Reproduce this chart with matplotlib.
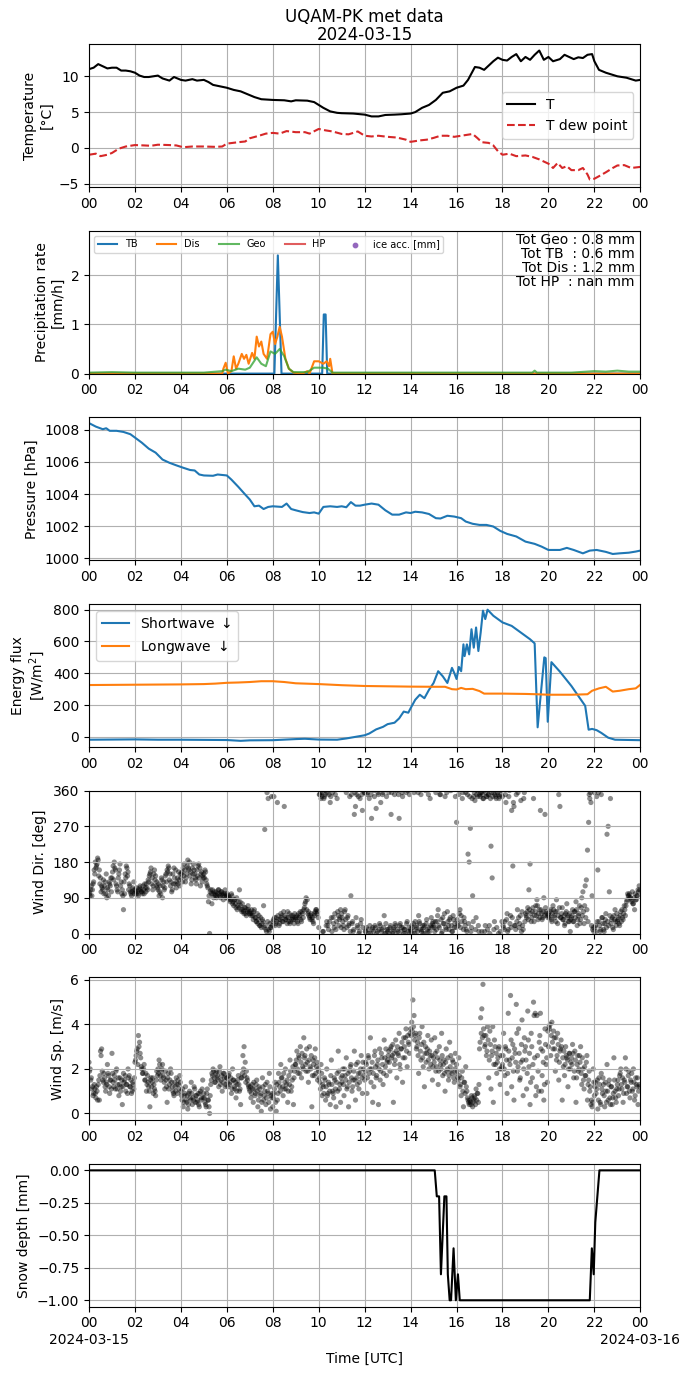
import numpy as np
import pandas as pd
import matplotlib
matplotlib.use("Agg")
import matplotlib.pyplot as plt
import matplotlib.dates as mdates

day = pd.Timestamp("2024-03-15")

# Temperature and dew point [degC]
t_hours = [0.0, 0.2, 0.4, 0.6, 0.8, 1.0, 1.2, 1.4, 1.6, 1.8, 2.0, 2.2, 2.4, 2.6, 2.8, 3.0, 3.2, 3.5, 3.7,
           4.0, 4.2, 4.5, 4.7, 5.0, 5.2, 5.4, 5.7, 6.0, 6.3, 6.6, 6.9, 7.2, 7.5, 8.0, 8.5, 8.8, 9.0, 9.5,
           9.8, 10.0, 10.2, 10.5, 10.8, 11.0, 11.5, 12.0, 12.3, 12.6, 12.9, 13.3, 13.6, 14.0, 14.2, 14.5,
           14.8, 15.1, 15.4, 15.7, 16.0, 16.3, 16.5, 16.7, 16.8, 17.0, 17.2, 17.4, 17.6, 17.8, 18.0, 18.2,
           18.4, 18.6, 18.8, 19.0, 19.2, 19.4, 19.6, 19.8, 20.0, 20.2, 20.5, 20.7, 20.9, 21.1, 21.3, 21.5,
           21.7, 21.9, 22.0, 22.2, 22.5, 23.0, 23.4, 23.8, 24.0]
t_vals = [11.0, 11.2, 11.7, 11.4, 11.1, 11.2, 11.2, 10.8, 10.8, 10.7, 10.5, 10.1, 9.9, 9.9, 10.0, 10.1, 9.7,
          9.4, 9.9, 9.5, 9.4, 9.6, 9.4, 9.5, 9.2, 8.8, 8.6, 8.4, 8.1, 7.9, 7.5, 7.1, 6.8, 6.7, 6.65, 6.5,
          6.65, 6.6, 6.4, 6.0, 5.6, 5.1, 4.9, 4.85, 4.8, 4.65, 4.4, 4.4, 4.6, 4.65, 4.7, 4.8, 5.0, 5.6,
          6.0, 6.7, 7.7, 7.9, 8.4, 8.7, 9.5, 10.7, 11.3, 11.2, 10.9, 11.5, 12.1, 12.6, 12.3, 12.2, 12.7,
          13.1, 12.1, 12.7, 12.3, 13.0, 13.6, 12.3, 12.7, 12.1, 12.4, 13.0, 12.7, 12.4, 12.65, 12.55, 13.0,
          13.1, 12.1, 10.9, 10.5, 10.0, 9.8, 9.4, 9.5]
td_hours = [0.0, 0.3, 0.5, 0.8, 1.0, 1.3, 1.6, 2.0, 2.4, 2.7, 3.0, 3.5, 3.8, 4.1, 4.5, 5.0, 5.5, 5.8, 6.0,
            6.5, 6.8, 7.0, 7.4, 7.7, 8.0, 8.3, 8.6, 9.0, 9.4, 9.6, 10.0, 10.3, 10.6, 11.0, 11.3, 11.7, 12.0,
            12.3, 12.6, 13.0, 13.4, 13.8, 14.0, 14.4, 14.7, 15.0, 15.3, 15.6, 15.9, 16.2, 16.5, 16.7, 16.9,
            17.1, 17.4, 17.6, 17.8, 18.0, 18.3, 18.6, 19.0, 19.3, 19.6, 20.0, 20.2, 20.4, 20.6, 20.8, 21.0,
            21.3, 21.5, 21.7, 21.8, 22.0, 22.2, 22.5, 22.8, 23.0, 23.3, 23.6, 24.0]
td_vals = [-0.95, -0.8, -1.15, -0.95, -0.7, -0.1, 0.2, 0.4, 0.35, 0.3, 0.45, 0.4, 0.35, 0.1, 0.2, 0.2, 0.15,
           0.2, 0.6, 0.8, 0.9, 1.35, 1.7, 2.0, 2.1, 2.0, 2.35, 2.2, 2.2, 2.0, 2.65, 2.45, 2.3, 1.95, 1.9,
           2.3, 1.7, 1.6, 1.7, 1.55, 1.45, 1.15, 0.85, 1.05, 1.15, 1.4, 1.7, 1.7, 1.55, 1.7, 1.85, 1.95,
           1.4, 0.8, 0.7, 0.35, -0.45, -0.95, -0.8, -1.15, -1.05, -1.25, -1.6, -2.2, -2.8, -2.1, -2.8,
           -2.55, -3.1, -3.1, -2.8, -3.7, -4.4, -4.3, -3.95, -3.4, -2.8, -2.45, -2.4, -2.8, -2.65]

# Precipitation rates [mm/h]
tb_hours = [0, 8.07, 8.22, 8.38, 10.15, 10.22, 10.3, 10.37, 24]
tb_rate = [0, 0, 2.4, 0, 0, 1.2, 1.2, 0, 0]
dis_hours = [0, 5.8, 5.85, 5.95, 6.05, 6.2, 6.3, 6.4, 6.5, 6.65, 6.75, 6.85, 6.95, 7.1, 7.2, 7.3, 7.4, 7.5,
             7.6, 7.75, 7.9, 8.0, 8.1, 8.2, 8.3, 8.4, 8.55, 8.7, 8.9, 9.3, 9.5, 9.6, 9.8, 10.0, 10.2, 10.35,
             10.45, 10.5, 10.6, 24]
dis_rate = [0, 0, 0.1, 0.22, 0.0, 0.05, 0.35, 0.1, 0.2, 0.4, 0.3, 0.38, 0.2, 0.42, 0.3, 0.75, 0.55, 0.65,
            0.4, 0.3, 0.8, 0.85, 0.6, 0.75, 0.95, 0.75, 0.3, 0.1, 0.02, 0.0, 0.05, 0.0, 0.25, 0.25, 0.2,
            0.25, 0.15, 0.3, 0.0, 0.0]
geo_hours = [0, 1, 2, 3, 4, 5, 5.8, 5.95, 6.2, 6.5, 6.8, 7.0, 7.3, 7.5, 7.7, 7.9, 8.1, 8.3, 8.5, 8.7, 8.9,
             9.5, 9.8, 10.2, 10.4, 10.6, 12, 14, 16, 18, 19.3, 19.4, 19.5, 21, 22, 22.5, 23, 23.5, 24]
geo_rate = [0.02, 0.03, 0.02, 0.02, 0.02, 0.02, 0.05, 0.08, 0.05, 0.1, 0.08, 0.12, 0.33, 0.2, 0.15, 0.45,
            0.4, 0.5, 0.35, 0.1, 0.03, 0.03, 0.12, 0.12, 0.1, 0.02, 0.02, 0.02, 0.02, 0.02, 0.02, 0.06,
            0.02, 0.02, 0.05, 0.04, 0.06, 0.04, 0.04]
hp_hours = [0, 24]
hp_rate = [np.nan, np.nan]
tot_geo, tot_tb, tot_dis, tot_hp = 0.8, 0.6, 1.2, np.nan

# Pressure [hPa]
p_hours = [0.0, 0.3, 0.6, 0.75, 0.9, 1.2, 1.5, 1.8, 2.0, 2.3, 2.6, 2.9, 3.2, 3.5, 3.8, 4.1, 4.4, 4.6, 4.8,
           5.0, 5.4, 5.6, 6.0, 6.2, 6.5, 6.8, 7.0, 7.2, 7.4, 7.6, 7.8, 8.0, 8.4, 8.6, 8.8, 9.0, 9.3, 9.6,
           9.8, 10.0, 10.2, 10.5, 10.8, 11.0, 11.2, 11.4, 11.6, 11.8, 12.0, 12.3, 12.6, 12.9, 13.2, 13.5,
           13.8, 14.0, 14.2, 14.5, 14.8, 15.1, 15.3, 15.6, 15.9, 16.2, 16.4, 16.7, 17.0, 17.3, 17.6, 17.9,
           18.2, 18.6, 19.0, 19.4, 19.7, 20.0, 20.5, 20.8, 21.1, 21.5, 21.8, 22.1, 22.5, 22.8, 23.1, 23.5,
           23.8, 24.0]
p_vals = [1008.42, 1008.2, 1008.04, 1008.1, 1007.94, 1007.94, 1007.87, 1007.73, 1007.52, 1007.2, 1006.83,
          1006.58, 1006.15, 1005.95, 1005.79, 1005.64, 1005.5, 1005.47, 1005.22, 1005.16, 1005.14, 1005.22,
          1005.16, 1004.9, 1004.45, 1003.97, 1003.66, 1003.24, 1003.28, 1003.07, 1003.2, 1003.24, 1003.2,
          1003.41, 1003.07, 1002.99, 1002.88, 1002.82, 1002.86, 1002.78, 1003.2, 1003.24, 1003.2, 1003.24,
          1003.18, 1003.5, 1003.28, 1003.28, 1003.34, 1003.41, 1003.34, 1002.99, 1002.72, 1002.72, 1002.86,
          1002.82, 1002.9, 1002.86, 1002.76, 1002.5, 1002.48, 1002.65, 1002.6, 1002.5, 1002.29, 1002.15,
          1002.08, 1002.08, 1001.98, 1001.71, 1001.52, 1001.36, 1001.04, 1000.9, 1000.73, 1000.52, 1000.52,
          1000.65, 1000.52, 1000.31, 1000.48, 1000.52, 1000.4, 1000.27, 1000.31, 1000.35, 1000.42, 1000.48]

# Radiation [W/m2]
sw_hours = [0.0, 1.0, 2.0, 3.0, 4.0, 5.0, 6.0, 6.6, 7.0, 8.0, 9.0, 9.4, 10.0, 10.8, 11.2, 11.6, 12.0, 12.2,
            12.5, 12.8, 13.0, 13.3, 13.5, 13.7, 13.9, 14.0, 14.2, 14.4, 14.6, 14.8, 15.0, 15.2, 15.4, 15.6,
            15.8, 15.9, 16.0, 16.1, 16.2, 16.3, 16.35, 16.45, 16.55, 16.65, 16.75, 16.85, 16.95, 17.05,
            17.15, 17.25, 17.35, 17.6, 18.0, 18.4, 18.8, 19.2, 19.4, 19.53, 19.82, 19.88, 19.97, 20.13,
            20.5, 21.0, 21.6, 21.75, 21.9, 22.1, 22.3, 22.6, 22.9, 24.0]
sw_vals = [-18, -17, -16, -18, -18, -19, -20, -25, -22, -21, -14, -12, -17, -18, -10, 0, 10, 21, 47, 63, 80,
           89, 116, 159, 152, 180, 233, 265, 243, 296, 339, 413, 381, 339, 434, 402, 364, 440, 413, 582,
           508, 582, 519, 677, 561, 688, 540, 656, 794, 741, 800, 762, 720, 698, 656, 614, 588, 60, 500,
           495, 95, 470, 410, 320, 195, 45, 50, 42, 25, -5, -18, -21]
lw_hours = [0, 1, 2, 3, 4, 5, 5.5, 6, 6.5, 7, 7.5, 8, 8.5, 9, 10, 11, 12, 13, 14, 15, 15.5, 15.8, 16.0,
            16.2, 16.4, 16.7, 17.0, 17.2, 18, 19, 19.5, 20, 21, 21.7, 21.9, 22.2, 22.5, 22.8, 23.1, 23.5,
            23.8, 24]
lw_vals = [326, 327, 328, 329, 330, 332, 335, 340, 342, 345, 350, 350, 345, 337, 332, 325, 320, 318, 316,
           315, 315, 300, 298, 308, 300, 302, 288, 272, 272, 270, 268, 265, 265, 268, 290, 305, 315, 285,
           290, 300, 305, 328]

# Wind, one sample every 3 minutes (20 per hour)
wind_dir = [
    105, 95, 120, 110, 130, 150, 165, 175, 185, 160, 140, 120, 110, 100, 130, 150, 115, 95, 125, 140,
    140, 170, 180, 160, 120, 105, 150, 175, 130, 110, 60, 100, 140, 165, 155, 125, 105, 95, 115, 130,
    110, 100, 105, 95, 115, 110, 105, 120, 100, 115, 125, 110, 130, 150, 165, 140, 120, 160, 145, 130,
    110, 95, 120, 140, 90, 130, 115, 150, 160, 170, 135, 120, 105, 150, 165, 125, 115, 140, 155, 120,
    140, 155, 165, 175, 130, 150, 185, 160, 145, 125, 165, 175, 150, 135, 160, 170, 140, 120, 155, 145,
    150, 160, 135, 120, 80, 0, 110, 75, 100, 105, 95, 90, 100, 110, 95, 105, 100, 85, 95, 100,
    95, 90, 85, 80, 100, 75, 70, 85, 65, 60, 80, 110, 70, 55, 60, 50, 65, 45, 55, 60,
    55, 45, 50, 35, 60, 40, 30, 25, 45, 20, 15, 35, 70, 262, 10, 355, 340, 5, 15, 345,
    30, 345, 20, 40, 330, 35, 25, 50, 45, 30, 320, 35, 40, 55, 30, 25, 45, 40, 35, 50,
    35, 45, 25, 40, 55, 30, 50, 60, 75, 90, 85, 55, 40, 45, 35, 30, 50, 55, 60, 55,
    15, 350, 340, 355, 5, 345, 360, 30, 20, 350, 330, 40, 355, 25, 50, 10, 340, 45, 35, 60,
    50, 30, 10, 60, 355, 40, 20, 345, 95, 25, 5, 300, 320, 350, 15, 0, 340, 35, 310, 360,
    355, 5, 350, 10, 340, 0, 290, 15, 360, 20, 315, 5, 350, 25, 330, 10, 355, 45, 0, 345,
    5, 355, 15, 300, 0, 10, 350, 20, 360, 5, 290, 25, 15, 345, 0, 10, 355, 30, 5, 350,
    10, 20, 0, 355, 30, 15, 5, 45, 25, 350, 10, 0, 20, 360, 35, 5, 15, 340, 40, 25,
    20, 5, 355, 30, 60, 15, 350, 0, 40, 25, 345, 10, 55, 20, 35, 360, 5, 45, 15, 345,
    280, 25, 350, 60, 45, 340, 10, 30, 355, 5, 200, 180, 265, 15, 95, 345, 335, 40, 360, 20,
    350, 355, 5, 340, 360, 20, 345, 10, 350, 0, 220, 140, 355, 30, 345, 15, 350, 340, 5, 360,
    345, 15, 30, 330, 50, 10, 360, 45, 310, 170, 320, 20, 350, 60, 40, 25, 335, 55, 10, 355,
    50, 40, 65, 110, 175, 30, 55, 340, 45, 70, 85, 35, 60, 310, 50, 40, 90, 300, 55, 45,
    50, 40, 60, 30, 70, 45, 55, 85, 25, 350, 320, 40, 65, 35, 20, 50, 75, 45, 30, 5,
    40, 60, 30, 55, 80, 20, 45, 70, 35, 90, 105, 25, 120, 135, 210, 280, 340, 330, 95, 15,
    355, 20, 345, 160, 30, 5, 350, 40, 10, 25, 50, 250, 270, 105, 340, 35, 15, 45, 60, 20,
    30, 40, 20, 55, 60, 35, 70, 45, 80, 100, 95, 90, 85, 105, 75, 60, 85, 95, 110, 120,
]
# second set of readings, 1.5 minutes after the first
wind_dir_b = [
    100, 110, 95, 125, 160, 180, 170, 190, 145, 125, 105, 115, 135, 120, 100, 90, 110, 130, 120, 105,
    155, 135, 165, 125, 110, 140, 160, 120, 100, 95, 130, 150, 170, 145, 110, 120, 100, 105, 110, 100,
    105, 115, 100, 110, 120, 105, 100, 110, 125, 105, 115, 135, 145, 155, 125, 110, 150, 135, 120, 115,
    125, 105, 100, 135, 120, 110, 145, 130, 155, 165, 150, 130, 110, 125, 140, 160, 130, 125, 135, 150,
    150, 130, 145, 160, 140, 170, 165, 180, 155, 135, 150, 160, 140, 125, 145, 175, 165, 150, 130, 140,
    140, 155, 125, 115, 95, 105, 100, 110, 90, 100, 105, 95, 110, 100, 90, 105, 95, 100, 110, 90,
    100, 95, 90, 85, 95, 80, 85, 75, 90, 70, 65, 80, 60, 75, 55, 65, 50, 60, 70, 50,
    50, 60, 45, 55, 40, 30, 50, 35, 20, 40, 25, 30, 15, 20, 5, 30, 10, 25, 15, 20,
    35, 40, 25, 30, 45, 20, 35, 40, 30, 55, 45, 35, 25, 40, 50, 30, 35, 45, 25, 40,
    40, 30, 50, 45, 35, 55, 40, 65, 80, 60, 50, 45, 35, 50, 40, 25, 45, 60, 50, 40,
    350, 355, 345, 5, 340, 350, 20, 355, 10, 30, 345, 5, 40, 15, 350, 30, 55, 20, 40, 15,
    40, 20, 55, 35, 15, 45, 25, 5, 350, 30, 10, 355, 40, 20, 345, 5, 25, 350, 15, 355,
    5, 15, 355, 0, 20, 350, 10, 5, 345, 15, 0, 355, 10, 20, 5, 350, 15, 0, 25, 10,
    10, 0, 20, 355, 5, 15, 25, 0, 10, 350, 20, 5, 355, 15, 10, 0, 25, 360, 15, 5,
    5, 15, 25, 0, 10, 20, 355, 30, 10, 5, 20, 15, 0, 25, 10, 350, 5, 20, 15, 30,
    15, 30, 10, 45, 20, 350, 35, 5, 25, 50, 15, 355, 30, 10, 40, 20, 5, 35, 25, 15,
    35, 20, 50, 15, 30, 355, 40, 20, 10, 350, 25, 345, 5, 340, 30, 355, 10, 350, 345, 5,
    345, 355, 350, 340, 5, 355, 345, 350, 20, 340, 355, 345, 10, 350, 340, 355, 0, 345, 350, 30,
    20, 10, 350, 35, 5, 345, 25, 15, 40, 330, 20, 10, 30, 355, 15, 45, 5, 20, 340, 30,
    45, 55, 35, 60, 50, 40, 65, 30, 55, 45, 70, 50, 40, 60, 35, 55, 45, 65, 50, 40,
    45, 55, 35, 50, 60, 40, 30, 55, 45, 65, 40, 50, 35, 45, 25, 55, 40, 30, 50, 35,
    45, 30, 55, 40, 60, 35, 50, 25, 65, 45, 55, 70, 40, 60, 30, 350, 355, 20, 10, 5,
    15, 5, 30, 355, 20, 10, 40, 25, 5, 35, 15, 30, 20, 45, 25, 40, 10, 35, 30, 50,
    35, 25, 45, 30, 40, 50, 60, 70, 85, 95, 100, 90, 80, 75, 90, 100, 85, 95, 105, 110,
]
wind_sp = [
    2.3, 2.0, 1.6, 1.2, 0.9, 1.1, 0.7, 1.0, 1.3, 0.6, 2.8, 2.9, 1.5, 1.8, 1.2, 1.4, 2.2, 1.7, 0.9, 1.5,
    2.7, 1.4, 1.7, 1.1, 2.0, 1.3, 0.8, 1.6, 1.2, 0.4, 1.8, 1.5, 1.0, 1.3, 2.0, 1.7, 1.2, 0.9, 1.4, 1.1,
    2.3, 2.6, 2.9, 3.5, 3.2, 2.5, 2.0, 1.8, 2.2, 1.5, 1.0, 1.7, 1.2, 0.3, 1.6, 1.4, 0.9, 1.1, 0.8, 1.9,
    2.0, 2.4, 1.7, 1.9, 2.2, 1.6, 1.1, 1.5, 0.5, 1.8, 1.3, 2.0, 1.4, 1.0, 0.8, 1.2, 1.6, 0.9, 1.3, 1.7,
    1.0, 0.6, 0.3, 0.8, 1.2, 0.5, 0.2, 0.9, 0.7, 1.4, 0.4, 0.6, 1.1, 0.8, 0.5, 0.9, 0.3, 1.0, 0.7, 1.5,
    0.9, 0.5, 0.3, 1.1, 0.6, 0.0, 1.3, 1.8, 2.0, 1.6, 1.4, 1.9, 1.7, 1.2, 2.1, 1.5, 1.0, 1.8, 1.6, 1.3,
    1.6, 1.2, 1.8, 1.4, 0.9, 2.0, 1.5, 1.1, 0.7, 1.3, 1.7, 1.0, 0.4, 1.6, 2.6, 3.0, 2.3, 1.9, 1.5, 1.2,
    1.0, 0.7, 1.3, 0.5, 1.1, 0.9, 1.5, 0.3, 1.2, 0.8, 0.1, 1.6, 0.6, 1.0, 0.4, 1.4, 0.9, 1.8, 0.2, 0.7,
    0.3, 0.9, 1.4, 0.1, 0.6, 1.8, 1.2, 2.2, 1.6, 0.8, 1.1, 2.0, 1.3, 0.5, 1.7, 2.4, 1.0, 1.5, 0.4, 1.9,
    2.2, 2.8, 1.8, 2.5, 3.0, 1.6, 2.1, 3.4, 2.6, 1.9, 2.3, 1.4, 3.0, 2.0, 0.3, 2.4, 1.7, 2.9, 2.1, 1.5,
    1.9, 1.4, 2.2, 0.8, 1.2, 1.6, 0.6, 2.0, 0.9, 1.3, 0.4, 2.4, 1.0, 0.7, 1.5, 0.3, 1.8, 2.8, 1.1, 0.5,
    1.4, 2.0, 0.8, 1.7, 2.5, 1.2, 0.3, 1.9, 2.2, 1.0, 1.5, 2.8, 0.6, 1.6, 2.3, 1.1, 1.8, 2.6, 0.9, 2.0,
    1.5, 2.3, 0.9, 2.6, 1.8, 3.4, 2.0, 0.5, 1.2, 2.8, 1.6, 2.2, 0.4, 2.9, 1.9, 2.5, 1.3, 3.3, 2.1, 1.7,
    2.4, 2.8, 1.9, 3.0, 2.6, 0.5, 2.2, 3.3, 1.6, 2.7, 3.6, 2.0, 2.9, 1.4, 3.4, 2.5, 3.8, 2.1, 3.2, 2.7,
    3.8, 4.1, 5.1, 4.4, 3.5, 2.9, 3.2, 1.8, 3.6, 2.4, 3.9, 2.1, 1.2, 3.0, 2.7, 3.5, 2.0, 2.6, 3.3, 1.5,
    2.5, 3.4, 1.9, 2.8, 1.3, 3.0, 2.2, 3.6, 1.7, 2.4, 1.0, 2.9, 2.0, 1.5, 3.2, 2.6, 1.8, 2.3, 1.4, 2.7,
    2.2, 1.6, 2.5, 1.2, 0.8, 1.9, 0.3, 1.4, 2.1, 1.0, 0.6, 0.4, 0.5, 0.8, 0.3, 0.6, 0.7, 1.1, 0.9, 0.5,
    2.9, 4.3, 4.7, 5.8, 3.5, 3.1, 2.6, 3.9, 1.6, 3.7, 1.1, 2.8, 0.5, 3.3, 2.2, 1.8, 2.5, 3.0, 1.3, 2.0,
    2.2, 3.6, 1.7, 2.9, 0.9, 4.5, 2.4, 5.3, 1.2, 3.1, 0.6, 2.7, 4.9, 1.9, 3.8, 1.5, 2.3, 4.2, 0.8, 3.4,
    3.0, 1.1, 4.6, 2.1, 0.4, 3.6, 1.6, 5.0, 2.5, 0.8, 4.4, 1.9, 3.2, 4.5, 1.0, 2.8, 0.6, 3.8, 2.2, 1.4,
    3.0, 3.8, 2.6, 4.1, 2.9, 3.4, 1.9, 2.4, 3.6, 1.5, 2.8, 3.3, 0.6, 2.1, 1.7, 3.0, 2.5, 1.2, 2.7, 2.0,
    2.5, 3.1, 1.6, 2.8, 0.5, 2.2, 1.9, 2.6, 3.0, 1.3, 2.0, 1.1, 1.7, 2.3, 0.6, 1.5, 1.0, 0.4, 0.3, 2.0,
    0.8, 1.4, 1.1, 0.2, 1.6, 0.5, 1.8, 0.9, 1.3, 0.3, 1.0, 2.2, 0.6, 1.5, 0.4, 1.2, 0.7, 2.5, 1.0, 0.5,
    1.3, 0.8, 1.7, 2.0, 1.1, 0.5, 1.5, 2.5, 0.9, 1.2, 1.9, 0.7, 1.4, 1.0, 2.0, 0.6, 1.6, 1.2, 0.4, 1.3,
]
wind_sp_b = [
    1.9, 1.5, 1.1, 0.8, 1.3, 0.9, 1.2, 0.6, 1.5, 1.7, 2.6, 1.9, 1.4, 1.6, 1.0, 1.3, 1.8, 1.2, 1.5, 1.1,
    1.8, 1.2, 1.5, 1.9, 1.1, 1.6, 1.3, 1.0, 1.5, 1.2, 1.4, 1.7, 1.3, 0.9, 1.6, 1.2, 1.5, 1.0, 1.3, 1.6,
    2.4, 2.8, 2.2, 3.0, 2.7, 2.1, 1.8, 2.0, 1.5, 1.8, 1.3, 1.4, 1.0, 1.5, 1.2, 1.6, 1.3, 1.0, 1.5, 1.7,
    1.8, 2.2, 1.5, 2.0, 1.7, 1.4, 1.9, 1.2, 1.6, 1.1, 1.5, 1.8, 1.2, 0.9, 1.4, 1.0, 1.3, 1.5, 1.1, 1.4,
    0.8, 1.1, 0.5, 0.9, 0.6, 0.8, 0.4, 1.0, 0.6, 0.9, 0.7, 1.2, 0.5, 0.8, 0.6, 0.4, 0.9, 0.6, 1.1, 0.7,
    0.7, 0.4, 0.9, 0.6, 0.3, 0.8, 1.5, 1.7, 1.9, 1.4, 1.8, 1.6, 1.5, 1.9, 1.3, 1.7, 1.4, 1.8, 1.2, 1.6,
    1.4, 1.7, 1.3, 1.6, 1.1, 1.5, 1.2, 1.4, 1.0, 1.5, 1.3, 1.1, 1.6, 1.8, 2.0, 1.7, 1.4, 1.6, 1.3, 1.1,
    1.2, 0.9, 1.1, 1.4, 0.8, 1.3, 1.0, 0.6, 1.1, 0.9, 0.5, 1.2, 0.8, 1.3, 0.7, 1.0, 0.5, 1.2, 0.8, 0.9,
    0.7, 1.1, 0.5, 1.3, 0.9, 1.4, 1.0, 1.6, 1.2, 1.8, 1.4, 1.1, 1.5, 1.0, 1.3, 1.9, 1.2, 2.1, 1.6, 2.2,
    2.4, 2.0, 2.6, 1.8, 2.3, 2.7, 2.0, 2.5, 2.2, 2.9, 1.9, 2.4, 2.1, 2.6, 1.7, 2.2, 2.5, 1.8, 2.3, 2.0,
    1.6, 1.1, 1.8, 1.3, 0.9, 1.5, 1.2, 0.8, 1.4, 1.0, 1.7, 1.3, 0.9, 1.6, 1.1, 1.4, 1.0, 1.9, 1.3, 1.6,
    1.7, 1.3, 2.0, 1.5, 1.1, 1.8, 1.4, 2.1, 1.6, 1.2, 1.9, 1.5, 2.2, 1.3, 1.8, 1.4, 2.0, 1.6, 2.3, 1.7,
    1.9, 2.2, 1.6, 2.5, 2.0, 1.4, 2.3, 1.8, 2.6, 2.1, 1.7, 2.4, 2.0, 1.5, 2.7, 2.2, 1.8, 2.5, 2.9, 2.3,
    2.6, 2.3, 2.9, 2.5, 3.1, 2.7, 2.4, 2.8, 3.0, 2.6, 2.2, 2.9, 3.2, 2.5, 3.0, 3.4, 2.8, 3.5, 3.1, 3.6,
    3.5, 3.7, 3.9, 3.3, 3.6, 3.0, 2.6, 3.4, 2.8, 3.1, 2.5, 3.2, 2.7, 2.3, 2.9, 2.4, 2.8, 2.2, 2.6, 2.1,
    2.3, 2.7, 2.1, 2.5, 1.9, 2.4, 2.0, 2.6, 2.2, 1.8, 2.3, 1.9, 2.5, 1.7, 2.1, 1.9, 2.4, 1.6, 2.0, 1.8,
    1.9, 1.5, 1.7, 1.3, 1.6, 1.0, 1.4, 0.9, 1.2, 0.7, 0.5, 0.6, 0.4, 0.7, 0.5, 0.8, 0.4, 0.6, 0.9, 1.3,
    3.2, 3.6, 3.4, 3.8, 3.0, 3.5, 2.8, 3.3, 2.4, 3.1, 2.6, 3.9, 2.2, 3.0, 2.7, 2.3, 2.9, 2.0, 2.6, 2.1,
    2.6, 2.0, 3.0, 2.4, 1.8, 2.8, 2.2, 3.3, 2.5, 1.9, 2.9, 2.3, 3.6, 2.1, 2.7, 1.6, 3.1, 2.4, 2.0, 2.8,
    2.4, 1.8, 3.3, 2.7, 1.4, 3.0, 2.2, 4.4, 4.5, 1.2, 2.6, 1.0, 3.5, 2.9, 1.7, 2.3, 1.3, 3.1, 2.5, 3.7,
    3.9, 4.0, 3.5, 3.2, 3.7, 2.9, 3.4, 2.6, 3.1, 2.3, 2.9, 3.0, 2.5, 2.8, 2.2, 2.6, 2.4, 2.0, 2.7, 2.3,
    2.2, 2.7, 1.9, 2.4, 1.6, 2.6, 2.0, 2.3, 1.8, 2.5, 1.5, 2.1, 1.7, 2.6, 1.3, 1.9, 1.2, 0.6, 0.5, 1.4,
    1.2, 0.9, 1.5, 0.6, 1.3, 0.4, 1.1, 1.6, 0.8, 1.4, 0.5, 1.0, 1.3, 0.7, 1.2, 0.4, 0.9, 1.5, 0.7, 1.1,
    1.5, 1.1, 1.8, 1.3, 1.6, 0.9, 1.4, 2.0, 1.2, 1.7, 1.0, 1.5, 1.8, 1.1, 1.4, 0.8, 1.3, 1.6, 1.0, 1.2,
]

# Snow depth [mm]
snow_hours = [0, 15.05, 15.14, 15.24, 15.32, 15.47, 15.56, 15.62, 15.7, 15.76, 15.87, 15.97, 16.06, 16.14,
              21.8, 21.89, 21.97, 22.04, 22.22, 24]
snow_vals = [0, 0, -0.2, -0.2, -0.8, -0.2, -0.2, -0.8, -1.0, -1.0, -0.6, -1.0, -0.8, -1.0, -1.0, -0.6,
             -0.8, -0.4, 0, 0]


def to_time(hours):
    return day + pd.to_timedelta(np.asarray(hours, dtype=float), unit="h")


def wind_times(vals, offset_min=0.0):
    return day + pd.to_timedelta(np.arange(len(vals)) * 3.0 + offset_min, unit="min")


fig, axes = plt.subplots(7, 1, figsize=(6.9, 13.77), dpi=100)
fig.subplots_adjust(left=0.129, right=0.928, top=0.968, bottom=0.051, hspace=0.306)
ax1, ax2, ax3, ax4, ax5, ax6, ax7 = axes

# temperature
ax1.plot(to_time(t_hours), t_vals, color="k", label="T")
ax1.plot(to_time(td_hours), td_vals, color="tab:red", ls="--", label="T dew point")
ax1.set_ylabel("Temperature\n[°C]")
ax1.set_ylim(-5.45, 14.5)
ax1.set_yticks([-5, 0, 5, 10])
ax1.legend(loc="center right")
ax1.set_title("UQAM-PK met data\n2024-03-15", fontsize=12, linespacing=1.0, pad=3)

# precipitation
ax2.plot(to_time(tb_hours), tb_rate, color="C0", label="TB")
ax2.plot(to_time(dis_hours), dis_rate, color="C1", label="Dis")
ax2.plot(to_time(geo_hours), geo_rate, color="C2", alpha=0.75, label="Geo")
ax2.plot(to_time(hp_hours), hp_rate, color="C3", alpha=0.75, label="HP")
ax2.scatter([], [], color="C4", s=10, label="ice acc. [mm]")
ax2.set_ylim(0, 2.9)
ax2.set_ylabel("Precipitation rate\n[mm/h]")
ax2.legend(loc="upper left", ncol=5, fontsize=7)
ax2.text(0.99, 0.985,
         f"Tot Geo : {tot_geo:.1f} mm\nTot TB  : {tot_tb:.1f} mm\n"
         f"Tot Dis : {tot_dis:.1f} mm\nTot HP  : {tot_hp:.1f} mm",
         transform=ax2.transAxes, ha="right", va="top", multialignment="right",
         fontsize=10, linespacing=1.0)

# pressure
ax3.plot(to_time(p_hours), p_vals, color="C0")
ax3.set_ylim(999.88, 1008.78)
ax3.set_ylabel("Pressure [hPa]")

# radiation
ax4.plot(to_time(sw_hours), sw_vals, color="C0", label="Shortwave $\\downarrow$")
ax4.plot(to_time(lw_hours), lw_vals, color="C1", label="Longwave $\\downarrow$")
ax4.set_ylim(-63, 836)
ax4.set_ylabel("Energy flux\n[W/m$^2$]")
ax4.legend(loc="upper left")

# wind
for vals, off in [(wind_dir, 0.0), (wind_dir_b, 1.5)]:
    ax5.scatter(wind_times(vals, off), vals, s=14, c="k", alpha=0.45, edgecolors="none")
ax5.set_ylim(0, 360)
ax5.set_yticks([0, 90, 180, 270, 360])
ax5.set_ylabel("Wind Dir. [deg]")

for vals, off in [(wind_sp, 0.0), (wind_sp_b, 1.5)]:
    ax6.scatter(wind_times(vals, off), vals, s=14, c="k", alpha=0.45, edgecolors="none")
ax6.set_ylim(-0.3, 6.12)
ax6.set_yticks([0, 2, 4, 6])
ax6.set_ylabel("Wind Sp. [m/s]")

# snow
ax7.plot(to_time(snow_hours), snow_vals, color="k")
ax7.set_ylim(-1.05, 0.05)
ax7.set_ylabel("Snow depth [mm]")
ax7.set_xlabel("Time [UTC]")


def bottom_fmt(x, pos=None):
    d = mdates.num2date(x)
    s = d.strftime("%H")
    if d.hour == 0 and d.minute == 0:
        s += "\n" + d.strftime("%Y-%m-%d")
    return s


for ax in axes:
    ax.set_xlim(day, day + pd.Timedelta(hours=24))
    ax.xaxis.set_major_locator(mdates.HourLocator(byhour=range(0, 24, 2)))
    ax.xaxis.set_major_formatter(mdates.DateFormatter("%H"))
    ax.grid(True)
ax7.xaxis.set_major_formatter(plt.FuncFormatter(bottom_fmt))

fig.savefig("out.png", dpi=100)
